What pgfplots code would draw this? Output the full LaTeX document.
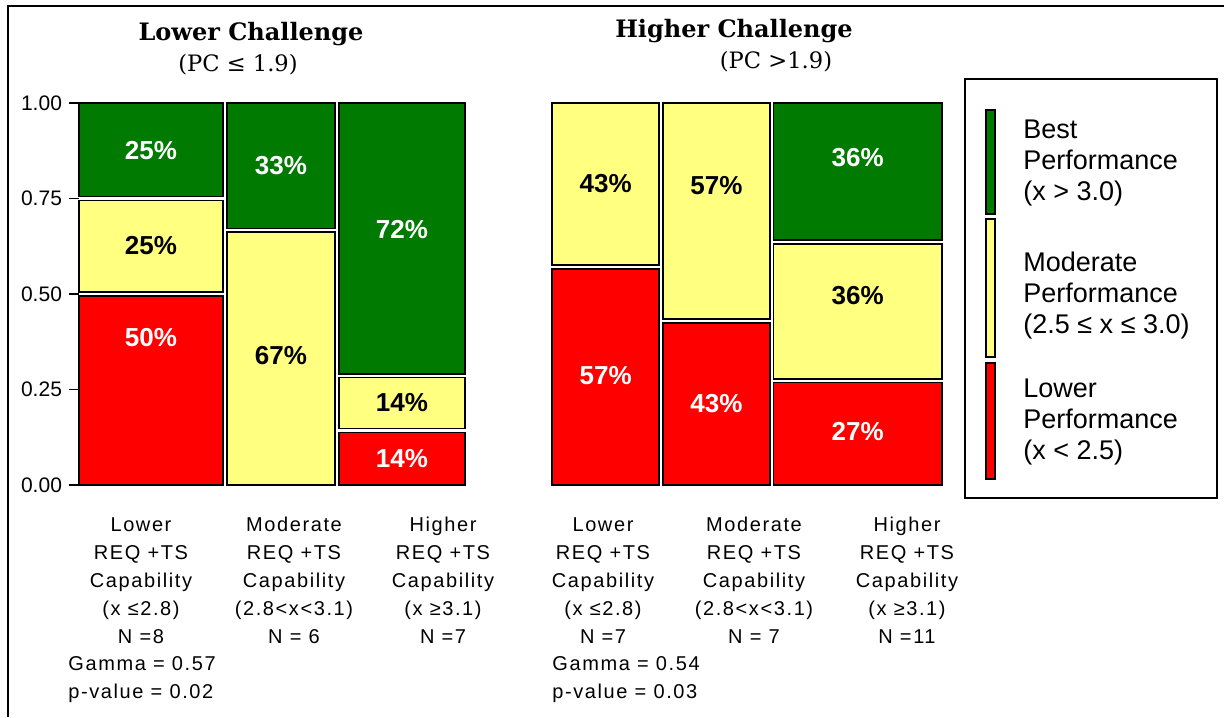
\documentclass[border=0pt]{standalone}
\usepackage{fontspec}
\setmainfont{Liberation Sans}
\newfontfamily\catfont[LetterSpace=8]{Liberation Sans}
\newfontfamily\ttlfont{DejaVu Serif}
\usepackage{pgfplots}
\pgfplotsset{compat=1.18}
\definecolor{bestgreen}{HTML}{007A00}
\definecolor{modyellow}{HTML}{FFFF80}
\definecolor{lowred}{HTML}{FF0000}

\pgfplotsset{
  mosaic/.style={
    scale only axis, clip=false, anchor=south west,
    ymin=0, ymax=1, height=191pt,
  },
  tile/.style={draw=black, line width=0.75pt, line join=miter},
}
% percent label inside a tile: x, y, text colour, value
\newcommand{\pct}[4]{\node[font=\fontsize{13}{13}\selectfont\bfseries, text=#3] at (axis cs:#1,#2) {#4\%};}

\begin{document}
\begin{tikzpicture}
\path[use as bounding box] (0,0) rectangle (612pt,358.5pt);

% ---- Lower challenge (N = 8, 6, 7) ----
\begin{axis}[mosaic, at={(39.5pt,116pt)}, width=193pt,
  xmin=0, xmax=21.44,
  hide x axis, axis y line*=left, y axis line style={draw=none},
  ytick={0,0.25,0.5,0.75,1}, ytick align=outside, major tick length=5pt,
  tick style={black, line width=0.8pt},
  yticklabel style={font=\fontsize{10.5}{12}\selectfont},
  /pgf/number format/fixed, /pgf/number format/fixed zerofill,
  /pgf/number format/precision=2, /pgf/number format/assume math mode=true,
]
% column 1
\addplot[tile, fill=lowred]     coordinates {(0,0) (8,0) (8,0.495) (0,0.495)} --cycle;
\addplot[tile, fill=modyellow]  coordinates {(0,0.505) (8,0.505) (8,0.745) (0,0.745)} --cycle;
\addplot[tile, fill=bestgreen]  coordinates {(0,0.755) (8,0.755) (8,1) (0,1)} --cycle;
% column 2
\addplot[tile, fill=modyellow]  coordinates {(8.22,0) (14.22,0) (14.22,0.662) (8.22,0.662)} --cycle;
\addplot[tile, fill=bestgreen]  coordinates {(8.22,0.672) (14.22,0.672) (14.22,1) (8.22,1)} --cycle;
% column 3
\addplot[tile, fill=lowred]     coordinates {(14.44,0) (21.44,0) (21.44,0.138) (14.44,0.138)} --cycle;
\addplot[tile, fill=modyellow]  coordinates {(14.44,0.148) (21.44,0.148) (21.44,0.281) (14.44,0.281)} --cycle;
\addplot[tile, fill=bestgreen]  coordinates {(14.44,0.291) (21.44,0.291) (21.44,1) (14.44,1)} --cycle;
\pct{4}{0.875}{white}{25}
\pct{4}{0.628}{black}{25}
\pct{4}{0.385}{white}{50}
\pct{11.22}{0.835}{white}{33}
\pct{11.22}{0.34}{black}{67}
\pct{17.94}{0.668}{white}{72}
\pct{17.94}{0.215}{black}{14}
\pct{17.94}{0.07}{white}{14}
\end{axis}

% ---- Higher challenge (N = 7, 7, 11) ----
\begin{axis}[mosaic, at={(276pt,116pt)}, width=195pt,
  xmin=0, xmax=25.46, hide axis,
]
% column 1
\addplot[tile, fill=lowred]     coordinates {(0,0) (7,0) (7,0.566) (0,0.566)} --cycle;
\addplot[tile, fill=modyellow]  coordinates {(0,0.576) (7,0.576) (7,1) (0,1)} --cycle;
% column 2
\addplot[tile, fill=lowred]     coordinates {(7.23,0) (14.23,0) (14.23,0.424) (7.23,0.424)} --cycle;
\addplot[tile, fill=modyellow]  coordinates {(7.23,0.434) (14.23,0.434) (14.23,1) (7.23,1)} --cycle;
% column 3
\addplot[tile, fill=lowred]     coordinates {(14.46,0) (25.46,0) (25.46,0.268) (14.46,0.268)} --cycle;
\addplot[tile, fill=modyellow]  coordinates {(14.46,0.278) (25.46,0.278) (25.46,0.631) (14.46,0.631)} --cycle;
\addplot[tile, fill=bestgreen]  coordinates {(14.46,0.641) (25.46,0.641) (25.46,1) (14.46,1)} --cycle;
\pct{3.5}{0.79}{black}{43}
\pct{3.5}{0.287}{white}{57}
\pct{10.73}{0.785}{black}{57}
\pct{10.73}{0.212}{white}{43}
\pct{19.96}{0.856}{white}{36}
\pct{19.96}{0.497}{black}{36}
\pct{19.96}{0.14}{white}{27}
\end{axis}

% ---- frame, titles, category text, legend (pixel coordinates) ----
\begin{scope}[x=0.5pt, y=-0.5pt, shift={(0pt,358.5pt)}]
\draw[line width=1pt] (8,717) -- (8,6) -- (1224,6);

\node[font=\ttlfont\bfseries\fontsize{12}{14}\selectfont] at (251,34) {Lower Challenge};
\node[font=\ttlfont\fontsize{11.3}{13}\selectfont] at (238,65) {(PC ≤ 1.9)};
\node[font=\ttlfont\bfseries\fontsize{12}{14}\selectfont] at (734,31) {Higher Challenge};
\node[font=\ttlfont\fontsize{11.3}{13}\selectfont] at (776,62) {(PC >1.9)};

\begin{scope}[every node/.style={font=\catfont\fontsize{10}{14}\selectfont, inner sep=0pt, align=center, anchor=north}]
\node at (141,517) {Lower\\REQ +TS\\Capability\\(x ≤2.8)\\N =8};
\node at (294,517) {Moderate\\REQ +TS\\Capability\\(2.8<x<3.1)\\N = 6};
\node at (443,517) {Higher\\REQ +TS\\Capability\\(x ≥3.1)\\N =7};
\node at (603,517) {Lower\\REQ +TS\\Capability\\(x ≤2.8)\\N =7};
\node at (754,517) {Moderate\\REQ +TS\\Capability\\(2.8<x<3.1)\\N = 7};
\node at (907,517) {Higher\\REQ +TS\\Capability\\(x ≥3.1)\\N =11};
\node[align=left, anchor=north west] at (68,656) {Gamma = 0.57\\p-value = 0.02};
\node[align=left, anchor=north west] at (552,656) {Gamma = 0.54\\p-value = 0.03};
\end{scope}

\draw[line width=1pt] (965,79) rectangle (1217,498);
\draw[line width=0.75pt, fill=bestgreen] (986,110) rectangle (995,214);
\draw[line width=0.75pt, fill=modyellow] (986,219) rectangle (995,357);
\draw[line width=0.75pt, fill=lowred] (986,363) rectangle (995,479);
\begin{scope}[every node/.style={font=\fontsize{13.5}{15.5}\selectfont, inner sep=0pt, align=left, anchor=north west}]
\node at (1023,120) {Best\\Performance\\(x > 3.0)};
\node at (1023,252) {Moderate\\Performance\\(2.5 ≤ x ≤ 3.0)};
\node at (1023,379) {Lower\\Performance\\(x < 2.5)};
\end{scope}
\end{scope}
\end{tikzpicture}
\end{document}
